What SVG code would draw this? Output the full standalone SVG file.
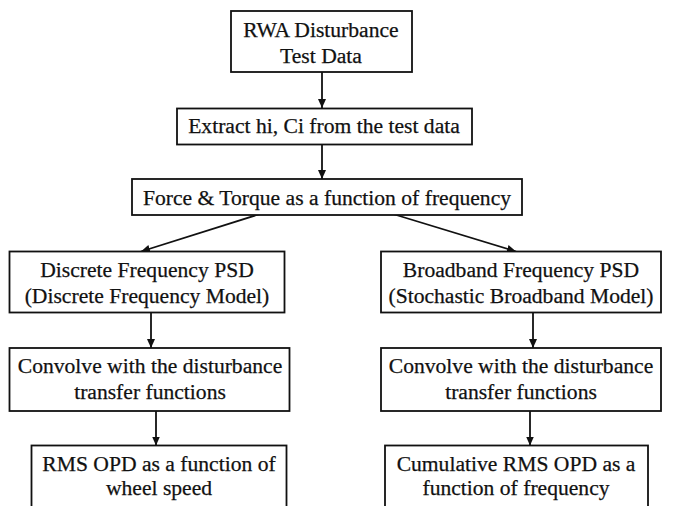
<svg xmlns="http://www.w3.org/2000/svg" width="675" height="506" viewBox="0 0 675 506">
  <style>
    .box { fill: #ffffff; stroke: #111111; stroke-width: 1.8; }
    .lbl { font-family: "Liberation Serif", "Times New Roman", serif; font-size: 21.6px; fill: #111111; stroke: #111111; stroke-width: 0.25; text-anchor: middle; }
    .edge { stroke: #111111; stroke-width: 1.8; fill: none; marker-end: url(#head); }
  </style>
  <defs>
    <marker id="head" markerUnits="userSpaceOnUse" markerWidth="10" markerHeight="8" refX="9" refY="4" orient="auto">
      <path d="M0,0 L9,4 L0,8 Z" fill="#111111"/>
    </marker>
  </defs>
  <rect width="675" height="506" fill="#ffffff"/>

  <g id="connectors">
    <line class="edge" x1="322" y1="72" x2="322" y2="108"/>
    <line class="edge" x1="322" y1="144.5" x2="322" y2="179"/>
    <line class="edge" x1="260" y1="214" x2="141" y2="251.5"/>
    <line class="edge" x1="393" y1="214" x2="516" y2="251.5"/>
    <line class="edge" x1="151" y1="312.5" x2="151" y2="348"/>
    <line class="edge" x1="533" y1="312.5" x2="533" y2="348"/>
    <line class="edge" x1="156" y1="411" x2="156" y2="445.5"/>
    <line class="edge" x1="530" y1="411" x2="530" y2="445.5"/>
  </g>

  <g id="rwa-test-data">
    <rect class="box" x="231" y="11" width="181" height="61"/>
    <text class="lbl" x="321" y="37">RWA Disturbance</text>
    <text class="lbl" x="321" y="63">Test Data</text>
  </g>

  <g id="extract">
    <rect class="box" x="177" y="108.5" width="295" height="36"/>
    <text class="lbl" x="324" y="133">Extract hi, Ci from the test data</text>
  </g>

  <g id="force-torque">
    <rect class="box" x="132" y="179" width="390" height="36"/>
    <text class="lbl" x="327" y="205">Force &amp; Torque as a function of frequency</text>
  </g>

  <g id="discrete-psd">
    <rect class="box" x="9.5" y="251.5" width="275" height="61"/>
    <text class="lbl" x="147" y="277">Discrete Frequency PSD</text>
    <text class="lbl" x="147" y="303">(Discrete Frequency Model)</text>
  </g>

  <g id="broadband-psd">
    <rect class="box" x="381" y="251.5" width="280" height="61"/>
    <text class="lbl" x="521" y="277">Broadband Frequency PSD</text>
    <text class="lbl" x="521" y="303">(Stochastic Broadband Model)</text>
  </g>

  <g id="convolve-left">
    <rect class="box" x="9.5" y="348" width="280" height="63"/>
    <text class="lbl" x="150" y="373">Convolve with the disturbance</text>
    <text class="lbl" x="150" y="399">transfer functions</text>
  </g>

  <g id="convolve-right">
    <rect class="box" x="381" y="348" width="280" height="63"/>
    <text class="lbl" x="521" y="373">Convolve with the disturbance</text>
    <text class="lbl" x="521" y="399">transfer functions</text>
  </g>

  <g id="rms-opd-wheel-speed">
    <rect class="box" x="31.5" y="445.5" width="255" height="70"/>
    <text class="lbl" x="159" y="471">RMS OPD as a function of</text>
    <text class="lbl" x="159" y="495">wheel speed</text>
  </g>

  <g id="cumulative-rms-opd">
    <rect class="box" x="385" y="445.5" width="263" height="70"/>
    <text class="lbl" x="516" y="471">Cumulative RMS OPD as a</text>
    <text class="lbl" x="516" y="495">function of frequency</text>
  </g>
</svg>
